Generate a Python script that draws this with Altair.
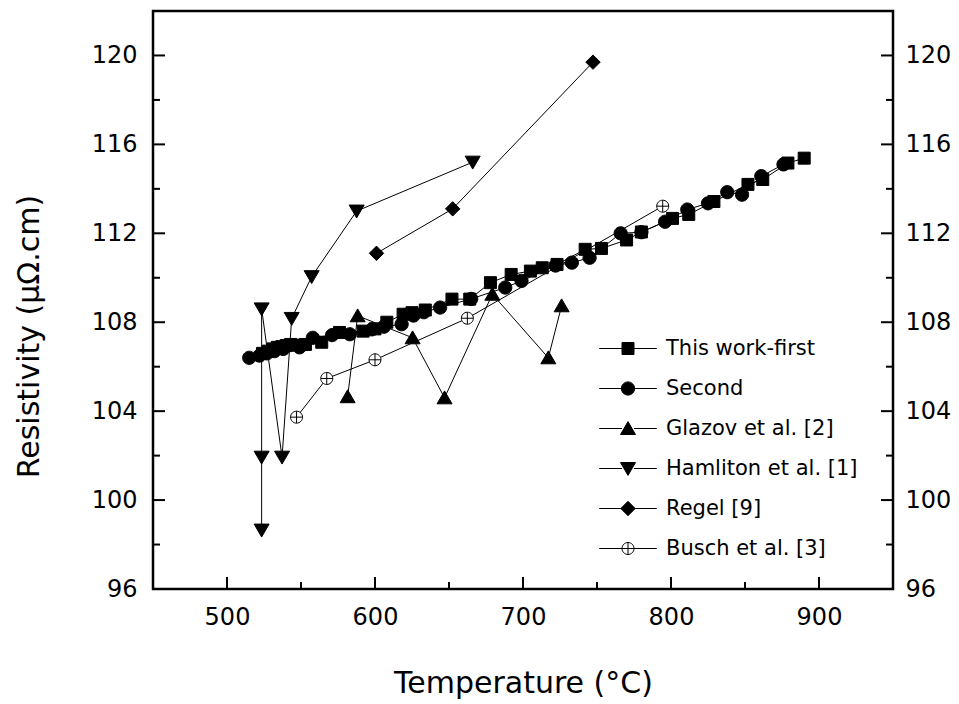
import altair as alt
import pandas as pd

FONT = "DejaVu Sans"

names = ["This work-first", "Second", "Glazov et al. [2]", "Hamliton et al. [1]",
         "Regel [9]", "Busch et al. [3]"]

first_T = [524, 528, 531, 534, 537, 540, 543, 546, 553, 564, 576, 592, 600, 608, 619,
           625, 634, 652, 664, 678, 692, 705, 713, 723, 742, 753, 770, 780, 801, 812,
           829, 852, 862, 879, 890]
first_R = [106.6, 106.7, 106.8, 106.87, 106.9, 106.95, 107.0, 106.97, 107.0, 107.1,
           107.54, 107.6, 107.7, 108.0, 108.36, 108.43, 108.55, 109.04, 109.04, 109.78,
           110.15, 110.3, 110.45, 110.6, 111.28, 111.32, 111.7, 112.06, 112.67, 112.85,
           113.43, 114.2, 114.42, 115.16, 115.38]

second_T = [515, 522, 527, 532, 538, 549, 558, 571, 583, 598, 606, 618, 626, 633, 644,
            665, 688, 699, 722, 733, 745, 766, 780, 796, 811, 825, 838, 848, 861, 876]
second_R = [106.4, 106.5, 106.6, 106.7, 106.8, 106.87, 107.3, 107.42, 107.46, 107.68,
            107.8, 107.91, 108.3, 108.45, 108.66, 109.05, 109.56, 109.86, 110.55, 110.68,
            110.9, 112.0, 112.05, 112.52, 113.07, 113.35, 113.85, 113.74, 114.57, 115.1]

glazov_T = [581.5, 588.3, 625.4, 647, 679.3, 717.1, 726.1]
glazov_R = [104.65, 108.29, 107.3, 104.6, 109.26, 106.4, 108.74]

hamliton_T = [523.4, 523.4, 523.4, 537.2, 543.7, 557.2, 587.6, 666]
hamliton_R = [98.65, 101.93, 108.6, 101.93, 108.17, 110.05, 113.0, 115.2]

regel_T = [601, 652.5, 747.3]
regel_R = [111.1, 113.1, 119.7]

busch_T = [547, 567.4, 600, 662.4, 794.4]
busch_R = [103.73, 105.47, 106.31, 108.18, 113.22]

x_major = [500, 600, 700, 800, 900]
x_minor = [550, 650, 750, 850]
y_major = [96, 100, 104, 108, 112, 116, 120]
y_minor = [98, 102, 106, 110, 114, 118]

# marker shapes (custom symbol paths)
sq = "M-1,-1H1V1H-1Z"
circ = "M-1.1,0A1.1,1.1 0 1,0 1.1,0A1.1,1.1 0 1,0 -1.1,0Z"
tri_up = "M0,-1.15L1.25,1L-1.25,1Z"
tri_dn = "M0,1.15L1.25,-1L-1.25,-1Z"
diam = "M0,-1.2L1.2,0L0,1.2L-1.2,0Z"
cplus = "M-1,0A1,1 0 1,0 1,0A1,1 0 1,0 -1,0ZM-1,0H1M0,-1V1"
point_paths = [sq, circ, tri_up, tri_dn, diam, cplus]
seg = "M-4.8,0H-1M1,0H4.8"
legend_paths = [seg + p for p in point_paths]
fills = ["black", "black", "black", "black", "black", "white"]

rows = []
for name, Ts, Rs in zip(names,
                        [first_T, second_T, glazov_T, hamliton_T, regel_T, busch_T],
                        [first_R, second_R, glazov_R, hamliton_R, regel_R, busch_R]):
    for i, (t, r) in enumerate(zip(Ts, Rs)):
        rows.append({"series": name, "T": t, "R": r, "idx": i})
df = pd.DataFrame(rows)

W, H = 740, 578
xs = alt.Scale(domain=[450, 950], nice=False, zero=False)
ys = alt.Scale(domain=[96, 122], nice=False, zero=False)

x_axis = alt.Axis(values=x_major, ticks=False, tickSize=0, domain=False, grid=False,
                  labelFont=FONT, labelFontSize=24, labelPadding=16, labelColor="black",
                  title="Temperature (°C)", titleFont=FONT, titleFontSize=30,
                  titleFontWeight="normal", titleColor="black", titleX=370, titleY=103,
                  titleBaseline="alphabetic")
y_axis_left = alt.Axis(values=y_major, ticks=False, tickSize=0, domain=False, grid=False,
                       labelFont=FONT, labelFontSize=24, labelPadding=16, labelColor="black",
                       title="Resistivity (μΩ.cm)", titleFont=FONT, titleFontSize=30,
                       titleFontWeight="normal", titleColor="black", titleX=-115, titleY=325,
                       titleAngle=270, titleBaseline="alphabetic", titleAlign="center")
y_axis_right = alt.Axis(orient="right", values=y_major, ticks=False, tickSize=0, domain=False,
                        grid=False, labelFont=FONT, labelFontSize=24, labelPadding=12,
                        labelColor="black", title=None)

xmaj_df = pd.DataFrame({"v": x_major})
xmin_df = pd.DataFrame({"v": x_minor})
ymaj_df = pd.DataFrame({"v": y_major})
ymin_df = pd.DataFrame({"v": y_minor})

bmaj = alt.Chart(xmaj_df).mark_rule(color="black", strokeWidth=2).encode(
    x=alt.X("v:Q", scale=xs, axis=None), y=alt.value(H), y2=alt.value(H - 12))
bmin = alt.Chart(xmin_df).mark_rule(color="black", strokeWidth=2).encode(
    x=alt.X("v:Q", scale=xs, axis=None), y=alt.value(H), y2=alt.value(H - 7))
lmaj = alt.Chart(ymaj_df).mark_rule(color="black", strokeWidth=2).encode(
    y=alt.Y("v:Q", scale=ys, axis=None), x=alt.value(0), x2=alt.value(12))
lmin = alt.Chart(ymin_df).mark_rule(color="black", strokeWidth=2).encode(
    y=alt.Y("v:Q", scale=ys, axis=None), x=alt.value(0), x2=alt.value(7))
rmaj = alt.Chart(ymaj_df).mark_rule(color="black", strokeWidth=2).encode(
    y=alt.Y("v:Q", scale=ys, axis=y_axis_right), x=alt.value(W), x2=alt.value(W - 12))
rmin = alt.Chart(ymin_df).mark_rule(color="black", strokeWidth=2).encode(
    y=alt.Y("v:Q", scale=ys, axis=None), x=alt.value(W), x2=alt.value(W - 7))

lines = alt.Chart(df).mark_line(color="black", strokeWidth=1).encode(
    x=alt.X("T:Q", scale=xs, axis=None),
    y=alt.Y("R:Q", scale=ys, axis=None),
    detail="series:N",
    order=alt.Order("idx:Q"),
)

points = alt.Chart(df).mark_point(filled=True, stroke="black", strokeWidth=1, size=144,
                                  opacity=1).encode(
    x=alt.X("T:Q", scale=xs, axis=x_axis),
    y=alt.Y("R:Q", scale=ys, axis=y_axis_left),
    color=alt.Color("series:N", scale=alt.Scale(domain=names, range=fills), legend=None),
    shape=alt.Shape("series:N", scale=alt.Scale(domain=names, range=point_paths), legend=None),
)

leg = alt.Legend(orient="none", legendX=464.5, legendY=327, title=None, symbolSize=144,
                 labelFont=FONT, labelFontSize=21, labelColor="black", labelOffset=27.5,
                 rowPadding=18, padding=0, symbolStrokeWidth=1, labelLimit=400)

legend_layer = alt.Chart(df).transform_filter("false").mark_point(
    filled=True, stroke="black", strokeWidth=1, opacity=1).encode(
    x=alt.X("T:Q", scale=xs, axis=None),
    y=alt.Y("R:Q", scale=ys, axis=None),
    color=alt.Color("series:N", scale=alt.Scale(domain=names, range=fills), legend=leg),
    shape=alt.Shape("series:N", scale=alt.Scale(domain=names, range=legend_paths), legend=leg),
)

chart = alt.layer(bmaj, bmin, lmaj, lmin, rmaj, rmin, lines, points, legend_layer).resolve_scale(
    color="independent", shape="independent").resolve_axis(
    x="independent", y="independent").properties(
    width=W, height=H,
    padding={"left": 153, "top": 11, "right": 66, "bottom": 115},
    autosize=alt.AutoSizeParams(type="none"),
).configure(font=FONT).configure_view(stroke="black", strokeWidth=2.5)

chart.save("out.html", embed_options={"renderer": "svg", "actions": False})
